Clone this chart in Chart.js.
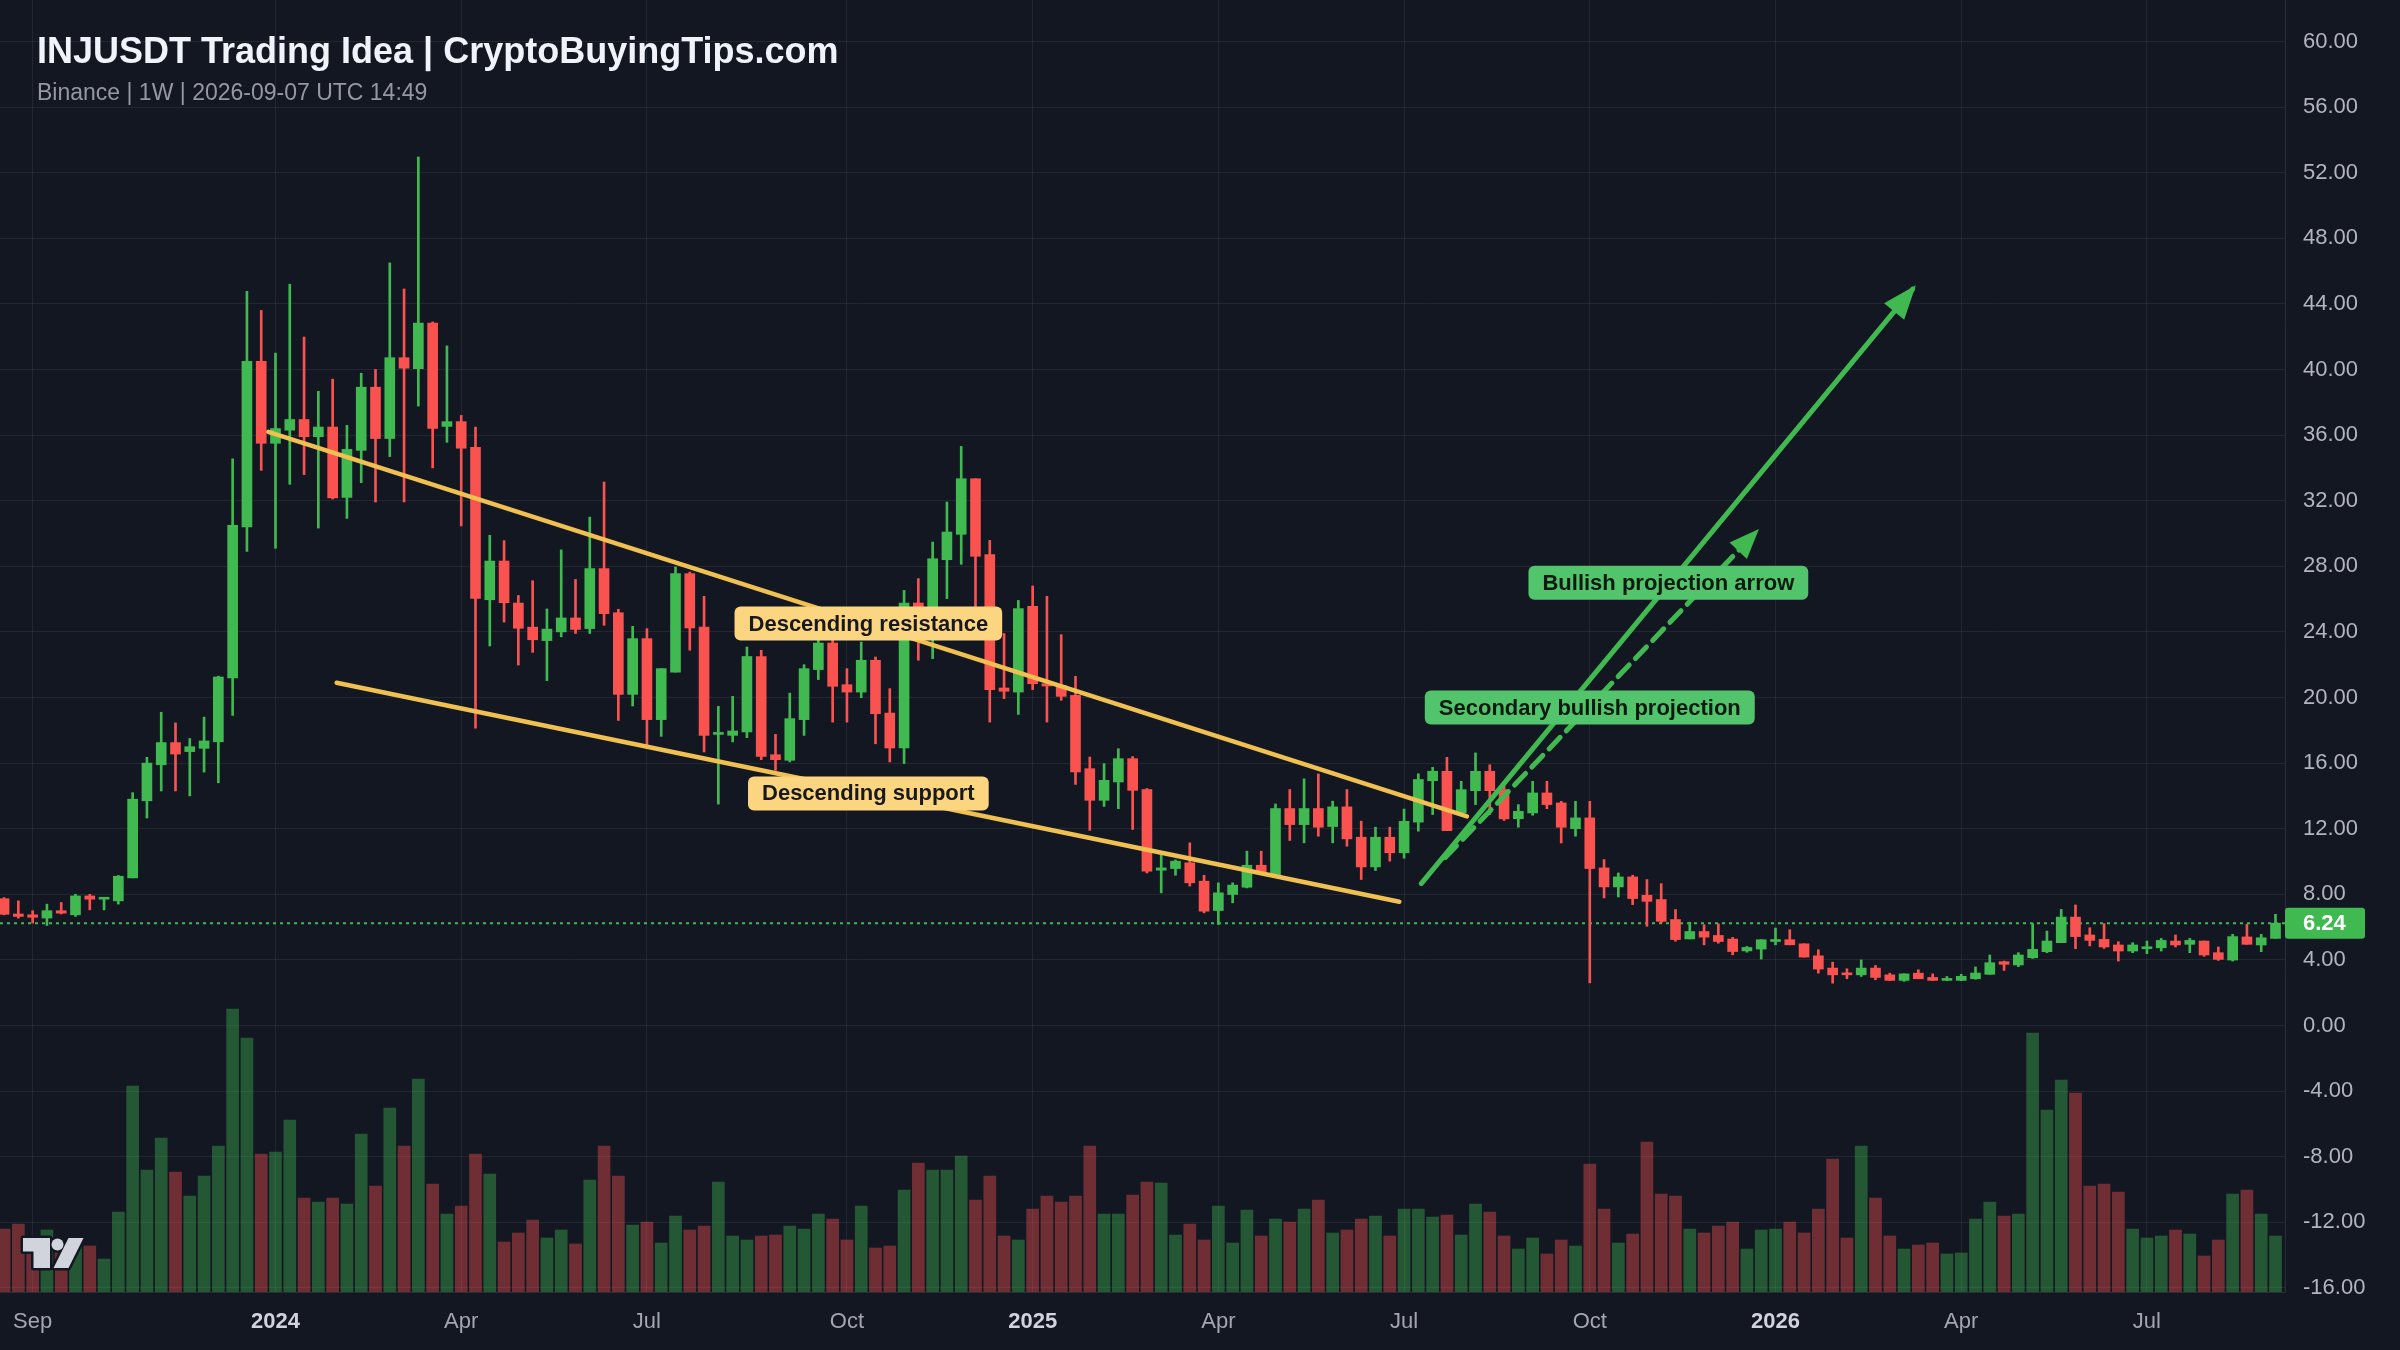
<!DOCTYPE html>
<html>
<head>
<meta charset="utf-8">
<title>INJUSDT Trading Idea</title>
<script src="https://cdn.jsdelivr.net/npm/chart.js@4.4.1/dist/chart.umd.min.js"></script>
<style>
  html, body { margin: 0; padding: 0; background: #131722; }
  #wrap { width: 2400px; height: 1350px; }
</style>
</head>
<body>
<div id="wrap"><canvas id="chart" width="2400" height="1350"></canvas></div>
<script>
/* global Chart */

// Weekly candles, first one is the week of 2023-08-21 (index -19, 2024-01-01 = 0)
const FIRST_WEEK = -19;

const opens = [
  7.73, 6.8, 6.75, 6.55, 7.0, 6.75, 7.9, 7.7, 7.6, 9.0,
  13.7, 15.9, 17.25, 16.7, 16.9, 17.3, 21.2, 30.4, 40.5, 35.5,
  36.3, 36.95, 35.9, 36.49, 32.2, 35.07, 38.92, 35.79, 40.72, 40.05,
  42.83, 36.53, 36.82, 35.25, 25.96, 28.32, 25.76, 24.29, 23.47, 24.0,
  24.85, 24.2, 27.86, 25.17, 20.19, 23.59, 18.65, 21.55, 27.55, 24.3,
  17.75, 17.69, 17.9, 22.5, 16.51, 16.17, 18.65, 21.7, 23.32, 20.78,
  20.33, 22.27, 19.05, 16.92, 25.76, 24.7, 28.4, 29.95, 33.34, 28.71,
  20.58, 20.33, 25.56, 20.84, 20.74, 20.13, 15.66, 13.73, 14.85, 16.27,
  14.39, 9.47, 9.57, 9.92, 8.8, 7.01, 7.99, 8.43, 9.77, 9.2,
  13.23, 12.25, 13.23, 12.13, 13.33, 11.48, 9.67, 11.48, 10.53, 12.4,
  14.93, 15.5, 12.96, 14.32, 15.5, 14.38, 12.61, 12.96, 14.18, 13.57,
  12.0, 12.66, 9.61, 8.45, 9.06, 7.94, 7.68, 6.46, 5.28, 5.73,
  5.49, 5.27, 4.55, 4.66, 5.12, 5.23, 4.98, 4.25, 3.5, 3.19,
  3.09, 3.5, 3.09, 2.75, 3.19, 2.93, 2.75, 2.75, 2.85, 3.12,
  3.89, 3.69, 4.13, 4.5, 5.05, 6.61, 5.52, 5.25, 4.91, 4.54,
  4.68, 4.74, 5.15, 4.95, 5.15, 4.44, 3.99, 5.4, 4.91, 5.31,
];

const highs = [
  7.8, 7.6, 7.0, 7.4, 7.5, 8.0, 8.0, 7.75, 9.15, 14.2,
  16.35, 19.1, 18.45, 17.5, 18.8, 21.3, 34.55, 44.77, 43.6, 41.0,
  45.2, 41.98, 38.67, 39.41, 36.59, 39.77, 40.0, 46.5, 44.91, 52.96,
  42.9, 41.44, 37.2, 36.49, 29.89, 29.56, 26.22, 27.12, 25.4, 29.0,
  27.2, 31.0, 33.14, 25.38, 24.34, 24.2, 21.76, 27.96, 27.65, 26.17,
  19.46, 20.07, 23.08, 22.88, 17.75, 20.27, 22.0, 24.3, 24.5, 21.76,
  23.38, 22.47, 20.54, 26.53, 27.25, 29.48, 31.92, 35.31, 33.34, 29.58,
  23.9, 25.92, 26.8, 26.17, 23.83, 21.29, 16.37, 15.97, 16.88, 16.4,
  14.45, 10.42, 10.1, 11.14, 9.16, 8.7, 8.7, 10.63, 10.63, 13.51,
  14.39, 15.04, 15.34, 13.68, 14.39, 12.46, 12.09, 12.09, 13.2, 15.35,
  15.74, 16.35, 14.89, 16.62, 15.9, 14.6, 13.47, 14.89, 14.89, 13.67,
  13.67, 13.67, 10.12, 9.3, 9.16, 8.9, 8.65, 7.07, 6.3, 6.14,
  6.2, 5.37, 4.82, 5.23, 5.94, 5.84, 4.98, 4.62, 3.86, 3.46,
  4.0, 3.66, 3.19, 3.15, 3.4, 3.15, 2.99, 3.12, 3.57, 4.3,
  3.93, 4.44, 6.21, 5.76, 7.08, 7.35, 5.96, 6.21, 5.11, 5.05,
  5.15, 5.31, 5.52, 5.31, 5.15, 4.79, 5.56, 6.17, 5.56, 6.78,
];

const lows = [
  6.75, 6.55, 6.25, 6.1, 6.8, 6.65, 7.05, 7.05, 7.4, 9.0,
  12.65, 14.3, 14.3, 14.0, 15.45, 14.8, 18.9, 28.9, 33.85, 29.1,
  33.0, 33.59, 30.33, 32.1, 30.92, 33.1, 31.92, 34.69, 31.92, 37.77,
  34.0, 35.56, 30.46, 18.13, 23.14, 24.6, 21.98, 22.75, 21.03, 23.7,
  23.9, 23.9, 24.4, 18.6, 19.48, 17.08, 17.63, 21.55, 22.88, 16.68,
  13.5, 17.29, 17.55, 16.21, 15.56, 16.07, 17.69, 21.09, 18.5, 18.5,
  19.99, 17.18, 16.07, 15.97, 22.27, 22.37, 26.03, 28.12, 25.52, 18.5,
  19.93, 18.97, 20.48, 18.5, 19.83, 14.7, 11.9, 13.36, 13.22, 11.95,
  9.3, 8.09, 9.16, 8.5, 6.87, 6.16, 7.48, 8.39, 9.2, 9.2,
  11.28, 11.14, 11.54, 11.14, 10.93, 8.9, 9.45, 10.02, 10.2, 11.85,
  12.86, 11.88, 12.96, 13.47, 12.86, 12.5, 12.09, 12.82, 13.22, 11.13,
  11.54, 2.6, 7.78, 7.84, 7.37, 6.05, 6.25, 5.14, 5.28, 4.92,
  5.02, 4.31, 4.47, 4.05, 4.92, 4.92, 4.17, 3.19, 2.58, 2.85,
  2.99, 2.79, 2.75, 2.69, 2.85, 2.75, 2.73, 2.73, 2.82, 3.12,
  3.36, 3.59, 4.09, 4.44, 5.05, 4.68, 4.85, 4.7, 3.93, 4.44,
  4.38, 4.54, 4.79, 4.44, 4.22, 3.97, 3.93, 4.95, 4.5, 5.31,
];

const closes = [
  6.78, 6.65, 6.6, 7.0, 6.85, 7.9, 7.7, 7.75, 9.1, 13.8,
  16.0, 17.25, 16.55, 17.0, 17.35, 21.25, 30.5, 40.5, 35.5, 36.4,
  36.95, 35.9, 36.49, 32.17, 35.13, 38.92, 35.79, 40.72, 40.08, 42.83,
  36.41, 36.82, 35.2, 26.04, 28.32, 25.78, 24.22, 23.52, 24.17, 24.85,
  24.15, 27.86, 25.11, 20.19, 23.59, 18.65, 21.76, 27.55, 24.24, 17.69,
  17.85, 17.96, 22.5, 16.41, 16.21, 18.71, 21.76, 23.32, 20.68, 20.33,
  22.27, 19.01, 16.92, 25.76, 24.7, 28.46, 30.09, 33.34, 28.61, 20.48,
  20.38, 25.42, 20.84, 20.7, 20.07, 15.46, 13.73, 14.95, 16.27, 14.34,
  9.41, 9.61, 10.02, 8.7, 6.97, 8.09, 8.56, 9.77, 9.25, 13.23,
  12.25, 13.23, 12.09, 13.33, 11.38, 9.67, 11.48, 10.53, 12.45, 15.0,
  15.5, 11.88, 14.38, 15.5, 14.32, 12.6, 13.06, 14.18, 13.47, 12.09,
  12.66, 9.57, 8.45, 9.06, 7.74, 7.57, 6.35, 5.24, 5.73, 5.39,
  5.12, 4.51, 4.76, 5.23, 5.23, 4.92, 4.17, 3.44, 3.09, 3.09,
  3.5, 2.93, 2.75, 3.15, 2.85, 2.75, 2.79, 3.0, 3.2, 3.83,
  3.73, 4.3, 4.64, 5.15, 6.61, 5.42, 5.19, 4.79, 4.54, 4.91,
  4.79, 5.19, 4.91, 5.19, 4.3, 4.03, 5.42, 4.95, 5.35, 6.24,
];

// volume in millions (approx)
const volumes = [
  6.3, 6.8, 5.0, 6.2, 4.5, 4.5, 4.6, 3.3, 8.0, 20.6,
  12.2, 15.4, 12.0, 9.6, 11.6, 14.6, 28.3, 25.4, 13.8, 14.0,
  17.2, 9.4, 9.0, 9.4, 8.8, 15.8, 10.6, 18.4, 14.6, 21.3,
  10.8, 7.8, 8.6, 13.8, 11.8, 5.0, 5.9, 7.2, 5.4, 6.2,
  4.8, 11.2, 14.6, 11.6, 6.7, 7.0, 4.9, 7.6, 6.2, 6.6,
  11.0, 5.6, 5.2, 5.6, 5.7, 6.6, 6.3, 7.8, 7.3, 5.2,
  8.6, 4.4, 4.6, 10.2, 12.9, 12.2, 12.2, 13.6, 9.2, 11.6,
  5.6, 5.2, 8.3, 9.6, 9.0, 9.6, 14.6, 7.8, 7.8, 9.7,
  11.0, 10.9, 5.7, 6.8, 5.2, 8.6, 4.9, 8.2, 5.6, 7.3,
  7.0, 8.3, 9.2, 5.9, 6.2, 7.3, 7.6, 5.6, 8.3, 8.3,
  7.5, 7.7, 5.7, 8.8, 8.0, 5.6, 4.3, 5.4, 3.8, 5.2,
  4.6, 12.8, 8.3, 4.9, 5.8, 15.0, 9.8, 9.6, 6.3, 5.9,
  6.6, 7.0, 4.3, 6.2, 6.3, 7.0, 5.9, 8.3, 13.3, 5.4,
  14.6, 9.4, 5.6, 4.3, 4.7, 4.9, 3.8, 3.9, 7.3, 9.0,
  7.6, 7.8, 25.9, 18.2, 21.2, 19.9, 10.6, 10.8, 10.0, 6.3,
  5.4, 5.6, 6.2, 5.8, 3.6, 5.2, 9.8, 10.2, 7.8, 5.6,
];

const priceTicks = [-16, -12, -8, -4, 0, 4, 8, 12, 16, 20, 24, 28, 32, 36, 40, 44, 48, 52, 56, 60];
const timeTickPos = [-17, 0, 13, 26, 40, 53, 66, 79, 92, 105, 118, 131];
const timeTickLabels = ["Sep", "2024", "Apr", "Jul", "Oct", "2025", "Apr", "Jul", "Oct", "2026", "Apr", "Jul"];

const currentPrice = 6.24;

// drawings (week index, price)
const resistanceLine = [{ x: -0.5, y: 36.2 }, { x: 83.4, y: 12.75 }];
const supportLine = [{ x: 4.28, y: 20.9 }, { x: 78.67, y: 7.55 }];
const bullArrow = [{ x: 80.2, y: 8.65 }, { x: 114.6, y: 44.9 }];
const secondArrow = [{ x: 81.9, y: 10.25 }, { x: 103.6, y: 30.05 }];

const noteLabels = [
  { text: "Descending resistance", x: 41.5, y: 24.51, fill: "#fbd57f", color: "#17191f" },
  { text: "Descending support", x: 41.5, y: 14.15, fill: "#fbd57f", color: "#17191f" },
  { text: "Bullish projection arrow", x: 97.5, y: 26.99, fill: "#52c46b", color: "#0c1a10" },
  { text: "Secondary bullish projection", x: 92.0, y: 19.39, fill: "#52c46b", color: "#0c1a10" },
];

const X_MIN = -19.285;
const X_MAX = 140.665;
const Y_MIN = -16.25;
const Y_MAX = 62.53;
const VOL_MAX = 129.2;

const UP = "#3fb950";
const DOWN = "#f9524f";
const UP_VOL = "rgba(63,185,80,0.4)";
const DOWN_VOL = "rgba(249,82,79,0.4)";
const TREND = "#f0c050";
const GRID = "rgba(255,255,255,0.07)";
const FONT = '"Liberation Sans", Arial, Helvetica, sans-serif';

const weekX = opens.map((_, k) => FIRST_WEEK + k);
const isUp = opens.map((o, k) => closes[k] >= o);

const bodyData = weekX.map((x, k) => ({ x, y: [opens[k], closes[k]] }));
const wickData = weekX.map((x, k) => ({ x, y: [lows[k], highs[k]] }));
const volData = weekX.map((x, k) => ({ x, y: volumes[k] }));
const candleColors = isUp.map((u) => (u ? UP : DOWN));
const volColors = isUp.map((u) => (u ? UP_VOL : DOWN_VOL));

function arrowHead(ctx, x0, y0, x1, y1, len, half, color) {
  const a = Math.atan2(y1 - y0, x1 - x0);
  const c = Math.cos(a), s = Math.sin(a);
  const tx = x1 + c * 5, ty = y1 + s * 5;
  ctx.save();
  ctx.fillStyle = color;
  ctx.beginPath();
  ctx.moveTo(tx, ty);
  ctx.lineTo(tx - len * c + half * s, ty - len * s - half * c);
  ctx.lineTo(tx - len * c - half * s, ty - len * s + half * c);
  ctx.closePath();
  ctx.fill();
  ctx.restore();
}

function roundBox(ctx, x, y, w, h, r) {
  ctx.beginPath();
  ctx.moveTo(x + r, y);
  ctx.arcTo(x + w, y, x + w, y + h, r);
  ctx.arcTo(x + w, y + h, x, y + h, r);
  ctx.arcTo(x, y + h, x, y, r);
  ctx.arcTo(x, y, x + w, y, r);
  ctx.closePath();
}

const tradingPlugin = {
  id: "tradingDecor",
  beforeDraw(chart) {
    const ctx = chart.ctx;
    ctx.save();
    ctx.fillStyle = "#131722";
    ctx.fillRect(0, 0, chart.width, chart.height);
    ctx.restore();
  },
  afterDatasetsDraw(chart) {
    const ctx = chart.ctx;
    const xs = chart.scales.x, ys = chart.scales.y;
    // arrow heads
    const a = bullArrow, b = secondArrow;
    arrowHead(ctx, xs.getPixelForValue(a[0].x), ys.getPixelForValue(a[0].y),
      xs.getPixelForValue(a[1].x), ys.getPixelForValue(a[1].y), 34, 13, UP);
    arrowHead(ctx, xs.getPixelForValue(b[0].x), ys.getPixelForValue(b[0].y),
      xs.getPixelForValue(b[1].x), ys.getPixelForValue(b[1].y), 30, 12, UP);
    // note boxes
    ctx.save();
    ctx.font = "bold 22px " + FONT;
    ctx.textAlign = "center";
    ctx.textBaseline = "middle";
    noteLabels.forEach((n) => {
      const cx = xs.getPixelForValue(n.x);
      const cy = ys.getPixelForValue(n.y);
      const w = ctx.measureText(n.text).width + 28;
      const h = 34;
      ctx.fillStyle = n.fill;
      roundBox(ctx, cx - w / 2, cy - h / 2, w, h, 6);
      ctx.fill();
      ctx.fillStyle = n.color;
      ctx.fillText(n.text, cx, cy + 1);
    });
    ctx.restore();
  },
  afterDraw(chart) {
    const ctx = chart.ctx;
    const ys = chart.scales.y;
    const area = chart.chartArea;
    ctx.save();
    // title
    ctx.textBaseline = "middle";
    ctx.textAlign = "left";
    ctx.fillStyle = "#f0f3fa";
    ctx.font = "bold 36px " + FONT;
    ctx.fillText("INJUSDT Trading Idea | CryptoBuyingTips.com", 37, 53);
    ctx.fillStyle = "#9598a1";
    ctx.font = "23px " + FONT;
    ctx.fillText("Binance | 1W | 2026-09-07 UTC 14:49", 37, 94);

    // last price tag on the axis
    const py = ys.getPixelForValue(currentPrice);
    ctx.fillStyle = UP;
    roundBox(ctx, area.right, py - 15.5, 80, 31, 3);
    ctx.fill();
    ctx.fillStyle = "#ffffff";
    ctx.font = "bold 22px " + FONT;
    ctx.fillText(currentPrice.toFixed(2), area.right + 18, py + 1);

    // TV logo
    ctx.lineJoin = "round";
    ctx.strokeStyle = "#131722";
    ctx.lineWidth = 5;
    ctx.fillStyle = "#d1d4dc";
    const tShape = () => {
      ctx.beginPath();
      ctx.moveTo(23, 1238); ctx.lineTo(50, 1238); ctx.lineTo(50, 1268);
      ctx.lineTo(33.5, 1268); ctx.lineTo(33.5, 1251.5); ctx.lineTo(23, 1251.5);
      ctx.closePath();
    };
    const slash = () => {
      ctx.beginPath();
      ctx.moveTo(68.5, 1238); ctx.lineTo(83.5, 1238); ctx.lineTo(68.5, 1268); ctx.lineTo(53.5, 1268);
      ctx.closePath();
    };
    const dot = () => { ctx.beginPath(); ctx.arc(57.5, 1244.5, 6, 0, Math.PI * 2); };
    [tShape, slash, dot].forEach((f) => { f(); ctx.stroke(); });
    [tShape, slash, dot].forEach((f) => { f(); ctx.fill(); });
    ctx.restore();
  },
};

new Chart(document.getElementById("chart"), {
  type: "bar",
  data: {
    datasets: [
      {
        type: "line", data: resistanceLine, borderColor: TREND, borderWidth: 4.5,
        pointRadius: 0, borderCapStyle: "round", order: 1, yAxisID: "y",
      },
      {
        type: "line", data: supportLine, borderColor: TREND, borderWidth: 4.5,
        pointRadius: 0, borderCapStyle: "round", order: 1, yAxisID: "y",
      },
      {
        type: "line", data: bullArrow, borderColor: UP, borderWidth: 5,
        pointRadius: 0, borderCapStyle: "round", order: 1, yAxisID: "y",
      },
      {
        type: "line", data: secondArrow, borderColor: UP, borderWidth: 5,
        borderDash: [16, 9], pointRadius: 0, borderCapStyle: "round", order: 1, yAxisID: "y",
      },
      {
        type: "line",
        data: [{ x: X_MIN, y: currentPrice }, { x: X_MAX, y: currentPrice }],
        borderColor: UP, borderWidth: 2, borderDash: [3, 4], pointRadius: 0, order: 5, yAxisID: "y",
      },
      {
        label: "body", data: bodyData, backgroundColor: candleColors, barThickness: 10,
        minBarLength: 2, grouped: false, order: 2, yAxisID: "y",
      },
      {
        label: "wick", data: wickData, backgroundColor: candleColors, barThickness: 2,
        grouped: false, order: 3, yAxisID: "y",
      },
      {
        label: "volume", data: volData, backgroundColor: volColors, barThickness: 12,
        grouped: false, order: 10, yAxisID: "yVol",
      },
    ],
  },
  options: {
    responsive: false,
    animation: false,
    events: [],
    layout: { padding: 0 },
    plugins: { legend: { display: false }, tooltip: { enabled: false } },
    scales: {
      x: {
        type: "linear",
        min: X_MIN,
        max: X_MAX,
        offset: false,
        afterBuildTicks: (s) => { s.ticks = timeTickPos.map((v) => ({ value: v })); },
        afterFit: (s) => { s.height = 58; s.paddingLeft = 0; s.paddingRight = 0; },
        ticks: {
          autoSkip: false,
          maxRotation: 0,
          padding: 17,
          callback: (v, i) => timeTickLabels[i],
          font: (c) => ({ family: FONT, size: 22, weight: /^\d{4}$/.test(timeTickLabels[c.index] || "") ? "bold" : "normal" }),
          color: (c) => (/^\d{4}$/.test(timeTickLabels[c.index] || "") ? "#d1d4dc" : "#a3a6af"),
        },
        grid: { color: GRID, drawTicks: false, offset: false },
        border: { color: "#2a2e39" },
      },
      y: {
        position: "right",
        min: Y_MIN,
        max: Y_MAX,
        afterBuildTicks: (s) => { s.ticks = priceTicks.map((v) => ({ value: v })); },
        afterFit: (s) => { s.width = 115; s.paddingTop = 0; s.paddingBottom = 0; },
        ticks: {
          padding: 18,
          callback: (v) => Number(v).toFixed(2),
          font: { family: FONT, size: 22 },
          color: "#b2b5be",
        },
        grid: { color: GRID, drawTicks: false },
        border: { color: "#2a2e39" },
      },
      yVol: { display: false, min: 0, max: VOL_MAX },
    },
  },
  plugins: [tradingPlugin],
});
</script>
</body>
</html>
